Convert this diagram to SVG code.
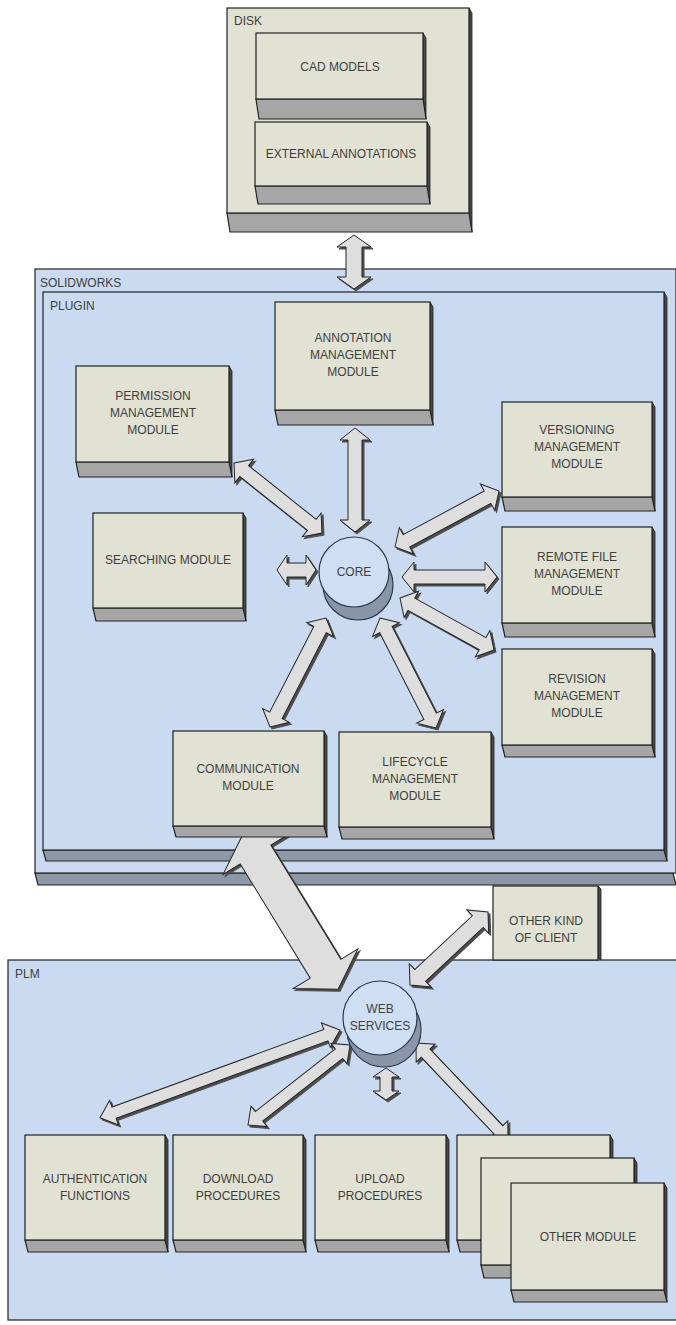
<svg xmlns="http://www.w3.org/2000/svg" width="676" height="1325" viewBox="0 0 676 1325">
<style>
.face{fill:#e1e2d3;stroke:#222;stroke-width:1.2}
.bot{fill:#a6a6a6;stroke:#222;stroke-width:1.2}
.side{fill:#4a4a4a;stroke:#222;stroke-width:0.8}
.cface{fill:#c9daf1;stroke:#222;stroke-width:1.2}
.cbot{fill:#8d98a6;stroke:#222;stroke-width:1.2}
.t{font-family:"Liberation Sans",Arial,sans-serif;font-size:12px;fill:#3f3f3f;text-anchor:middle}
.lbl{font-family:"Liberation Sans",Arial,sans-serif;font-size:12px;fill:#3f3f3f}
.cyl{fill:#cfdff3;stroke:#2a3a50;stroke-width:1.2}
.cylsh{fill:#8a96a8;stroke:#2a3a50;stroke-width:1.2}
.arrow{fill:#dedede;stroke:#262626;stroke-width:1}
.arrow-shadow{fill:#4d4d4d;stroke:#4d4d4d;stroke-width:1}
</style>
<defs>
<g id="arrowShapes">
<polygon transform="translate(354,235) rotate(90)" points="0,0 12,-17 12,-8 42,-8 42,-17 54,0 42,17 42,8 12,8 12,17"/>
<polygon transform="translate(355,428) rotate(90)" points="0,0 12,-15 12,-7 92,-7 92,-15 104,0 92,15 92,7 12,7 12,15"/>
<polygon transform="translate(234,463) rotate(38.5)" points="0,0 13,-15 13,-7 99.4,-7 99.4,-15 112.4,0 99.4,15 99.4,7 13,7 13,15"/>
<polygon transform="translate(277,570)" points="0,0 10,-15 10,-7 29,-7 29,-15 39,0 29,15 29,7 10,7 10,15"/>
<polygon transform="translate(395,547) rotate(-28.3)" points="0,0 13,-15 13,-7 105.1,-7 105.1,-15 118.1,0 105.1,15 105.1,7 13,7 13,15"/>
<polygon transform="translate(402,577)" points="0,0 12,-15 12,-7 83,-7 83,-15 95,0 83,15 83,7 12,7 12,15"/>
<polygon transform="translate(400,598) rotate(28.95)" points="0,0 13,-15 13,-7 94.4,-7 94.4,-15 107.4,0 94.4,15 94.4,7 13,7 13,15"/>
<polygon transform="translate(326,618) rotate(117.2)" points="0,0 13,-15 13,-7 109.5,-7 109.5,-15 122.5,0 109.5,15 109.5,7 13,7 13,15"/>
<polygon transform="translate(380,618) rotate(63)" points="0,0 13,-15 13,-7 110.4,-7 110.4,-15 123.4,0 110.4,15 110.4,7 13,7 13,15"/>
<polygon transform="translate(243,834) rotate(58.5)" points="0,0 24,-38 24,-18 158,-18 158,-38 182,0 158,38 158,18 24,18 24,38"/>
<polygon transform="translate(410,985) rotate(-43.1)" points="0,0 14,-16 14,-8 92.8,-8 92.8,-16 106.8,0 92.8,16 92.8,8 14,8 14,16"/>
<polygon transform="translate(340,1030) rotate(159.9)" points="0,0 15,-13 15,-6 240.6,-6 240.6,-13 255.6,0 240.6,13 240.6,6 15,6 15,13"/>
<polygon transform="translate(350,1045) rotate(141.9)" points="0,0 14,-13 14,-6 115.6,-6 115.6,-13 129.6,0 115.6,13 115.6,6 14,6 14,13"/>
<polygon transform="translate(386,1068) rotate(90)" points="0,0 9,-13 9,-6 23,-6 23,-13 32,0 23,13 23,6 9,6 9,13"/>
<polygon transform="translate(416,1043) rotate(46.5)" points="0,0 14,-13 14,-6 119.7,-6 119.7,-13 133.7,0 119.7,13 119.7,6 14,6 14,13"/>
</g>
</defs>
<rect width="676" height="1325" fill="#ffffff"/>

<g id="disk">
<polygon class="side" points="469,8 472,13 472,232 469,213"/>
<polygon class="bot" points="227,213 469,213 472,232 230,232"/>
<rect class="face" x="227" y="8" width="242" height="205"/>
<text class="lbl" x="234" y="25">DISK</text>
</g>
<g id="cad-models">
<polygon class="side" points="423,33 426,38 426,119 423,99"/>
<polygon class="bot" points="256,99 423,99 426,119 259,119"/>
<rect class="face" x="256" y="33" width="167" height="66"/>
<text class="t" x="340" y="71">CAD MODELS</text>
</g>
<g id="external-annotations">
<polygon class="side" points="427,122 430,127 430,204 427,186"/>
<polygon class="bot" points="255,186 427,186 430,204 258,204"/>
<rect class="face" x="255" y="122" width="172" height="64"/>
<text class="t" x="341" y="158">EXTERNAL ANNOTATIONS</text>
</g>

<g id="solidworks">
<polygon class="cbot" points="35,873 673,873 676,885 38,885"/>
<rect class="cface" x="35" y="269" width="641" height="604"/>
<text class="lbl" x="40" y="287">SOLIDWORKS</text>
</g>
<g id="plugin">
<polygon class="side" points="664,292 667,297 667,861 664,850"/>
<polygon class="cbot" points="43,850 664,850 667,861 46,861"/>
<rect class="cface" x="43" y="292" width="621" height="558"/>
<text class="lbl" x="50" y="310">PLUGIN</text>
</g>
<g id="plm">
<rect class="cface" x="8" y="960" width="670" height="360"/>
<text class="lbl" x="15" y="978">PLM</text>
</g>

<g id="connectors">
<use href="#arrowShapes" class="arrow-shadow" transform="translate(2,2)"/>
<use href="#arrowShapes" class="arrow"/>
</g>

<g id="other-client">
<polygon class="side" points="598,886 601,889 601,960 598,958"/>
<rect class="face" x="493" y="886" width="105" height="74"/>
<text class="t" x="546" y="925">OTHER KIND</text>
<text class="t" x="546" y="942">OF CLIENT</text>
</g>
<g id="annotation-management">
<polygon class="side" points="430,302 433,307 433,425 430,410"/>
<polygon class="bot" points="275,410 430,410 433,425 278,425"/>
<rect class="face" x="275" y="302" width="155" height="108"/>
<text class="t" x="353" y="342">ANNOTATION</text>
<text class="t" x="353" y="359">MANAGEMENT</text>
<text class="t" x="353" y="376">MODULE</text>
</g>
<g id="permission-management">
<polygon class="side" points="229,366 232,371 232,477 229,462"/>
<polygon class="bot" points="76,462 229,462 232,477 79,477"/>
<rect class="face" x="76" y="366" width="153" height="96"/>
<text class="t" x="153" y="400">PERMISSION</text>
<text class="t" x="153" y="417">MANAGEMENT</text>
<text class="t" x="153" y="434">MODULE</text>
</g>
<g id="versioning-management">
<polygon class="side" points="652,402 655,407 655,511 652,497"/>
<polygon class="bot" points="502,497 652,497 655,511 505,511"/>
<rect class="face" x="502" y="402" width="150" height="95"/>
<text class="t" x="577" y="434">VERSIONING</text>
<text class="t" x="577" y="451">MANAGEMENT</text>
<text class="t" x="577" y="468">MODULE</text>
</g>
<g id="searching">
<polygon class="side" points="243,513 246,518 246,621 243,608"/>
<polygon class="bot" points="93,608 243,608 246,621 96,621"/>
<rect class="face" x="93" y="513" width="150" height="95"/>
<text class="t" x="168" y="564">SEARCHING MODULE</text>
</g>
<g id="core">
<circle class="cylsh" cx="358" cy="585" r="35"/>
<circle class="cyl" cx="354" cy="572" r="35"/>
<text class="t" x="354" y="576">CORE</text>
</g>
<g id="remote-file-management">
<polygon class="side" points="652,527 655,532 655,637 652,623"/>
<polygon class="bot" points="502,623 652,623 655,637 505,637"/>
<rect class="face" x="502" y="527" width="150" height="96"/>
<text class="t" x="577" y="561">REMOTE FILE</text>
<text class="t" x="577" y="578">MANAGEMENT</text>
<text class="t" x="577" y="595">MODULE</text>
</g>
<g id="revision-management">
<polygon class="side" points="652,649 655,654 655,757 652,745"/>
<polygon class="bot" points="502,745 652,745 655,757 505,757"/>
<rect class="face" x="502" y="649" width="150" height="96"/>
<text class="t" x="577" y="683">REVISION</text>
<text class="t" x="577" y="700">MANAGEMENT</text>
<text class="t" x="577" y="717">MODULE</text>
</g>
<g id="communication">
<polygon class="side" points="324,731 327,736 327,837 324,826"/>
<polygon class="bot" points="173,826 324,826 327,837 176,837"/>
<rect class="face" x="173" y="731" width="151" height="95"/>
<text class="t" x="248" y="773">COMMUNICATION</text>
<text class="t" x="248" y="790">MODULE</text>
</g>
<g id="lifecycle-management">
<polygon class="side" points="491,732 494,737 494,839 491,827"/>
<polygon class="bot" points="339,827 491,827 494,839 342,839"/>
<rect class="face" x="339" y="732" width="152" height="95"/>
<text class="t" x="415" y="766">LIFECYCLE</text>
<text class="t" x="415" y="783">MANAGEMENT</text>
<text class="t" x="415" y="800">MODULE</text>
</g>

<g id="web-services">
<circle class="cylsh" cx="384" cy="1030" r="37"/>
<circle class="cyl" cx="380" cy="1018" r="37"/>
<text class="t" x="380" y="1013">WEB</text>
<text class="t" x="380" y="1030">SERVICES</text>
</g>
<g id="authentication">
<polygon class="side" points="165,1135 168,1140 168,1252 165,1240"/>
<polygon class="bot" points="25,1240 165,1240 168,1252 28,1252"/>
<rect class="face" x="25" y="1135" width="140" height="105"/>
<text class="t" x="95" y="1183">AUTHENTICATION</text>
<text class="t" x="95" y="1200">FUNCTIONS</text>
</g>
<g id="download">
<polygon class="side" points="303,1135 306,1140 306,1252 303,1240"/>
<polygon class="bot" points="173,1240 303,1240 306,1252 176,1252"/>
<rect class="face" x="173" y="1135" width="130" height="105"/>
<text class="t" x="238" y="1183">DOWNLOAD</text>
<text class="t" x="238" y="1200">PROCEDURES</text>
</g>
<g id="upload">
<polygon class="side" points="446,1135 449,1140 449,1252 446,1240"/>
<polygon class="bot" points="315,1240 446,1240 449,1252 318,1252"/>
<rect class="face" x="315" y="1135" width="131" height="105"/>
<text class="t" x="380" y="1183">UPLOAD</text>
<text class="t" x="380" y="1200">PROCEDURES</text>
</g>
<g id="other-module">
<polygon class="side" points="610,1135 613,1140 613,1252 610,1240"/>
<polygon class="bot" points="457,1240 610,1240 613,1252 460,1252"/>
<rect class="face" x="457" y="1135" width="153" height="105"/>
<polygon class="side" points="634,1158 637,1163 637,1278 634,1265"/>
<polygon class="bot" points="481,1265 634,1265 637,1278 484,1278"/>
<rect class="face" x="481" y="1158" width="153" height="107"/>
<polygon class="side" points="664,1183 667,1188 667,1302 664,1290"/>
<polygon class="bot" points="511,1290 664,1290 667,1302 514,1302"/>
<rect class="face" x="511" y="1183" width="153" height="107"/>
<text class="t" x="588" y="1241">OTHER MODULE</text>
</g>
</svg>
